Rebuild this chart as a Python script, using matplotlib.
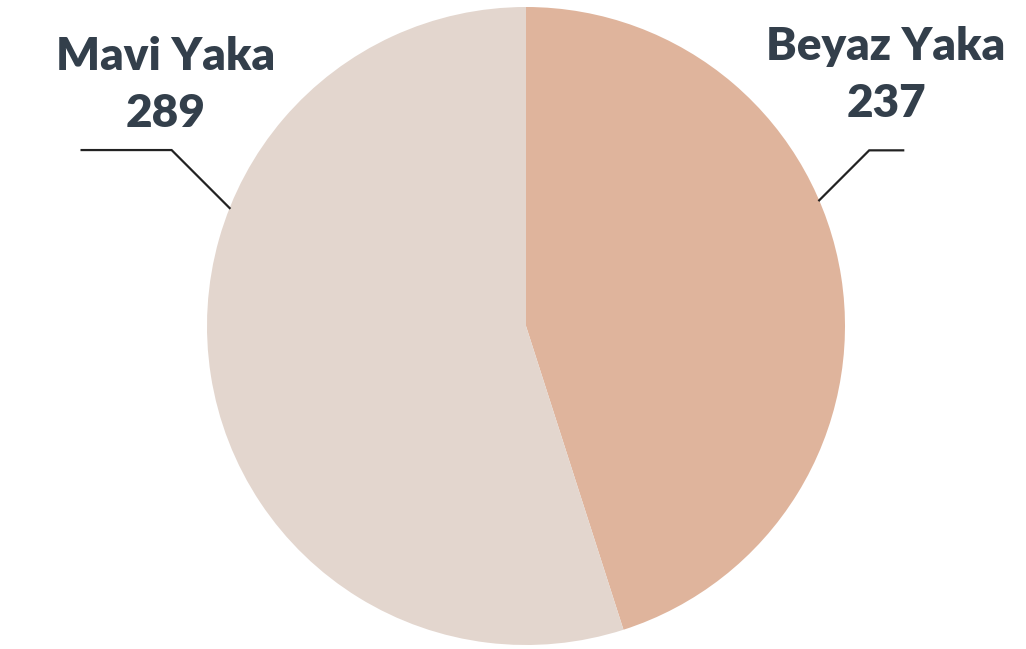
import numpy as np
import matplotlib.pyplot as plt

LABELS = ["Beyaz Yaka", "Mavi Yaka"]
VALUES = [237, 289]
COLORS = ["#DFB49C", "#E3D6CE"]
TEXT_COLOR = "#333F4B"

# label placement (angle on rim where leader starts, text position)
LEADER_ANGLES = [23.2, 158.3]
ELBOWS = [50, 58]
TAILS = [34, 90]
LABEL_POS = [(886, 574), (166, 564)]

W, H = 1026, 649
CENTER = (526, 323)
RADIUS = 319


def main():
    fig = plt.figure(figsize=(W / 100, H / 100), dpi=100)
    ax = fig.add_axes([0, 0, 1, 1])

    ax.pie(
        VALUES,
        colors=COLORS,
        startangle=90,
        counterclock=False,
        center=CENTER,
        radius=RADIUS,
        frame=True,
    )
    ax.set_xlim(0, W)
    ax.set_ylim(0, H)
    ax.set_aspect("equal")
    ax.axis("off")

    for label, value, ang, el, tail, (tx, ty) in zip(
        LABELS, VALUES, LEADER_ANGLES, ELBOWS, TAILS, LABEL_POS
    ):
        a = np.deg2rad(ang)
        x0 = CENTER[0] + RADIUS * np.cos(a)
        y0 = CENTER[1] + RADIUS * np.sin(a)
        side = 1 if np.cos(a) > 0 else -1
        x1 = x0 + side * el
        y1 = y0 + el
        x2 = x1 + side * tail
        ax.plot([x0, x1, x2], [y0, y1, y1], color="#222222", lw=1.6,
                solid_joinstyle="miter")
        ax.text(tx, ty, f"{label}\n{value}", ha="center", va="center",
                fontsize=33, fontweight="heavy", family="Lato",
                color=TEXT_COLOR, linespacing=1.45)

    fig.savefig("out.png", dpi=100)
    plt.close(fig)


if __name__ == "__main__":
    main()
